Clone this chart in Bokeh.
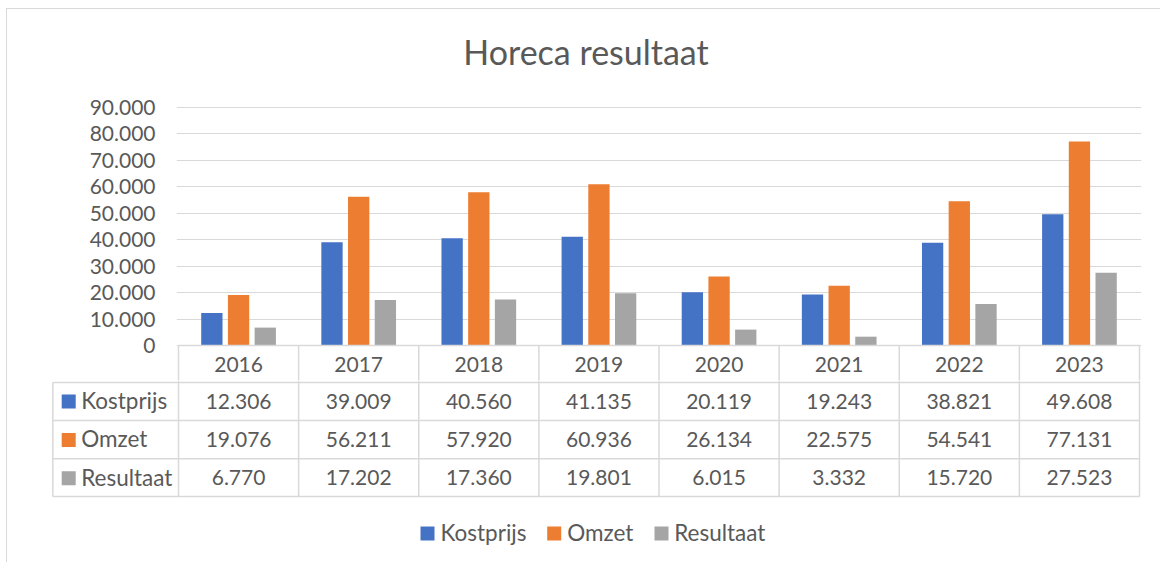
from bokeh.plotting import figure
from bokeh.models import FactorRange, Range1d, FixedTicker, ColumnDataSource
from bokeh.transform import dodge
from bokeh.layouts import column
from bokeh.embed import file_html
from bokeh.resources import INLINE
from bokeh.core.properties import value

# ---------------- data ----------------
years = ["2016", "2017", "2018", "2019", "2020", "2021", "2022", "2023"]
kostprijs = [12306, 39009, 40560, 41135, 20119, 19243, 38821, 49608]
omzet = [19076, 56211, 57920, 60936, 26134, 22575, 54541, 77131]
resultaat = [6770, 17202, 17360, 19801, 6015, 3332, 15720, 27523]
series_names = ["Kostprijs", "Omzet", "Resultaat"]
series_colors = ["#4472C4", "#ED7D31", "#A5A5A5"]
y_ticks = [0, 10000, 20000, 30000, 40000, 50000, 60000, 70000, 80000, 90000]
title_text = "Horeca resultaat"


def nl(v):
    return f"{v:,}".replace(",", ".")


series_values = [kostprijs, omzet, resultaat]

# ---------------- layout constants (page pixels) ----------------
MX, MY = 6, 8            # outer margin before the chart border
OX, OY = MX + 1, MY + 1  # canvas origin on the page (after the 1px border)
FRAME_L, FRAME_R = 178, 1139
ZERO_Y, TOP_Y = 345, 107
PX = (FRAME_R - FRAME_L) / len(years)       # px per category
PY = (ZERO_Y - TOP_Y) / y_ticks[-1]         # px per value unit
W = 1160 - OX
SPLIT_Y = 380
H_A = SPLIT_Y - OY
H_B = 562 - SPLIT_Y
FONT = value("Lato")
TXT = "#595959"
LINE = "#d9d9d9"
FS_NUM = 21
FS_WORD = 22.5
FS_TITLE = 34
BASE_SHIFT = 0.37   # empirical baseline correction (em)


def base(y_page, fs):
    return y_page - BASE_SHIFT * fs


# ---------------- chart figure ----------------
pad = 2 / PX
xr = FactorRange(factors=years, range_padding=pad / 4)
yr = Range1d((ZERO_Y - SPLIT_Y) / PY, (ZERO_Y - OY) / PY)

pa = figure(width=W, height=H_A, x_range=xr, y_range=yr,
            output_backend="svg", toolbar_location=None,
            x_axis_location=None, y_axis_location="left",
            min_border=0, min_border_left=FRAME_L - 2 - OX,
            min_border_right=W - (FRAME_R + 2 - OX))
pa.outline_line_color = None
pa.background_fill_color = "white"
pa.border_fill_color = "white"
pa.xgrid.visible = False
pa.yaxis.ticker = FixedTicker(ticks=y_ticks)
pa.ygrid.ticker = FixedTicker(ticks=y_ticks)
pa.ygrid.grid_line_color = LINE
pa.ygrid.grid_line_width = 1
pa.yaxis.axis_line_color = None
pa.yaxis.major_tick_line_color = None
pa.yaxis.minor_tick_line_color = None
pa.yaxis.major_tick_in = 0
pa.yaxis.major_tick_out = 0
pa.yaxis.major_label_standoff = 21
pa.yaxis.major_label_text_font = "Lato"
pa.yaxis.major_label_text_font_size = f"{FS_NUM}px"
pa.yaxis.major_label_text_color = TXT
pa.yaxis.major_label_overrides = {t: nl(t) for t in y_ticks}

src = ColumnDataSource(dict(year=years, Kostprijs=kostprijs, Omzet=omzet, Resultaat=resultaat))
step = 26.7 / PX
bw = 21.3 / PX
for k, (name, col) in enumerate(zip(series_names, series_colors)):
    pa.vbar(x=dodge("year", (k - 1) * step, range=pa.x_range), top=name, width=bw,
            source=src, fill_color=col, line_color=None)

# header row (years) of the data table
n = len(years)
edges = list(range(n + 1))
pa.segment(x0=edges, y0=[(ZERO_Y - SPLIT_Y) / PY] * (n + 1), x1=edges, y1=[0] * (n + 1),
           line_color=LINE, line_width=1.5)
pa.segment(x0=[0], y0=[0], x1=[n], y1=[0], line_color=LINE, line_width=1.5)
pa.text(x=years, y=[(ZERO_Y - base(371.7, FS_NUM)) / PY] * n, text=years, text_align="center",
        text_baseline="alphabetic", text_font=FONT, text_font_size=f"{FS_NUM}px", text_color=TXT)

# title
pa.text(x=[(585.5 - FRAME_L) / PX], y=[(ZERO_Y - base(63.3, FS_TITLE)) / PY], text=[title_text],
        text_align="center", text_baseline="alphabetic", text_font=FONT,
        text_font_size=f"{FS_TITLE}px", text_color=TXT)

# ---------------- table + legend figure ----------------
pb = figure(width=W, height=H_B,
            x_range=Range1d((OX - FRAME_L) / PX, (OX + W - FRAME_L) / PX),
            y_range=Range1d(562, SPLIT_Y),
            output_backend="svg", toolbar_location=None,
            x_axis_location=None, y_axis_location=None, min_border=0)
pb.outline_line_color = None
pb.background_fill_color = "white"
pb.border_fill_color = "white"
pb.grid.visible = False

for fig in (pa, pb):
    if "frame_align" in fig.properties():
        fig.frame_align = False

row_lines = [382, 420, 458.3, 496]
row_base = [408.3, 446.7, 485]
left = (52.3 - FRAME_L) / PX
pb.segment(x0=[left] * 4, y0=row_lines, x1=[n] * 4, y1=row_lines, line_color=LINE, line_width=1.5)
pb.segment(x0=[left], y0=[row_lines[0]], x1=[left], y1=[row_lines[-1]], line_color=LINE, line_width=1.5)
pb.segment(x0=edges, y0=[SPLIT_Y] * (n + 1), x1=edges, y1=[row_lines[-1]] * (n + 1),
           line_color=LINE, line_width=1.5)

centers = [i + 0.5 for i in range(n)]
for r, (name, col, vals) in enumerate(zip(series_names, series_colors, series_values)):
    yb = row_base[r]
    pb.scatter(x=[(68.2 - FRAME_L) / PX], y=[yb - 7.2], marker="square", size=14,
               fill_color=col, line_color=None)
    pb.text(x=[(80.7 - FRAME_L) / PX], y=[base(yb, FS_WORD)], text=[name], text_align="left",
            text_baseline="alphabetic", text_font=FONT, text_font_size=f"{FS_WORD}px", text_color=TXT)
    pb.text(x=centers, y=[base(yb, FS_NUM)] * n, text=[nl(v) for v in vals], text_align="center",
            text_baseline="alphabetic", text_font=FONT, text_font_size=f"{FS_NUM}px", text_color=TXT)

# bottom legend
leg_sq = [427, 553.7, 661]
leg_tx = [440, 566.7, 673.7]
for name, col, sx, tx in zip(series_names, series_colors, leg_sq, leg_tx):
    pb.scatter(x=[(sx - FRAME_L) / PX], y=[533], marker="square", size=14,
               fill_color=col, line_color=None)
    pb.text(x=[(tx - FRAME_L) / PX], y=[base(540.5, FS_WORD)], text=[name], text_align="left",
            text_baseline="alphabetic", text_font=FONT, text_font_size=f"{FS_WORD}px", text_color=TXT)

layout = column(pa, pb, spacing=0,
                styles={"margin-left": f"{MX}px", "margin-top": f"{MY}px",
                        "border-left": "1px solid #d9d9d9", "border-top": "1px solid #d9d9d9"})

open("out.html", "w").write(file_html(layout, INLINE))
